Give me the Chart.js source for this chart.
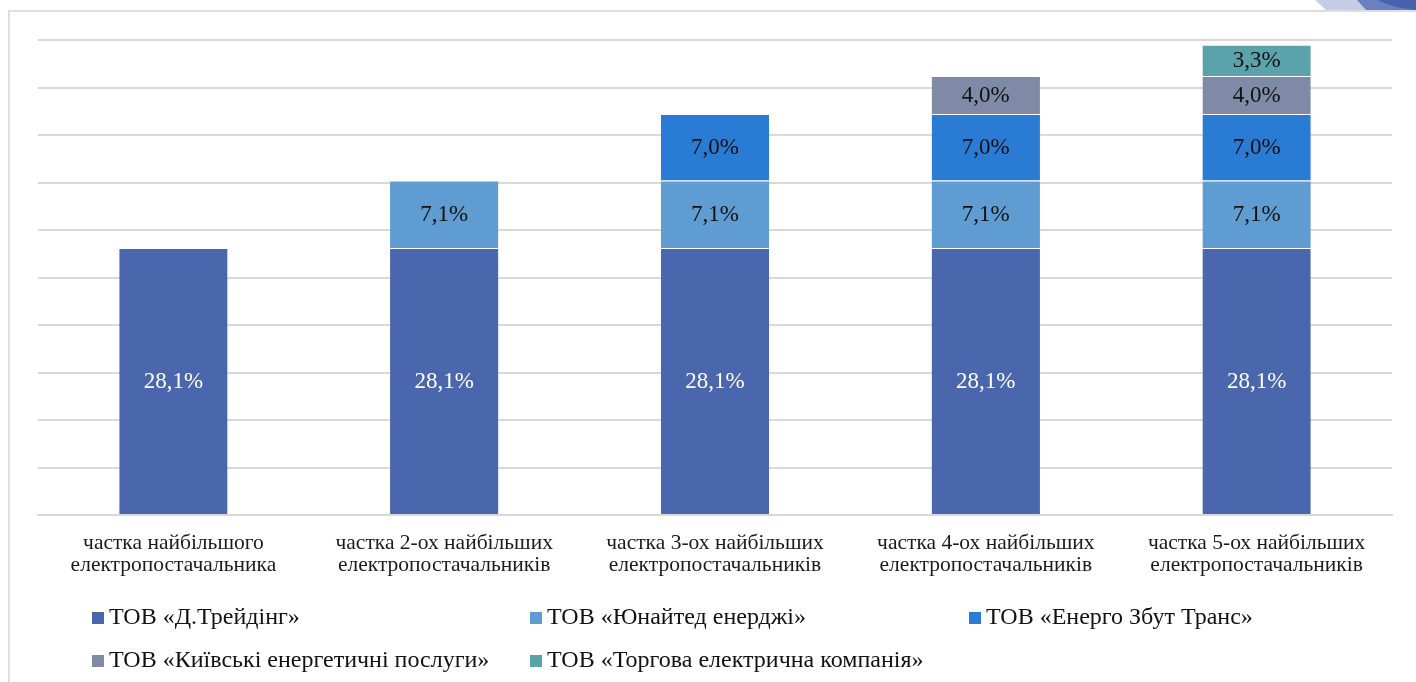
<!DOCTYPE html>
<html>
<head>
<meta charset="utf-8">
<script src="https://cdn.jsdelivr.net/npm/chart.js@4/dist/chart.umd.min.js"></script>
<style>
  html, body { margin: 0; padding: 0; background: #fff; }
  #wrap { position: relative; width: 1416px; height: 682px; }
  #frame { position: absolute; left: 8px; top: 10px; width: 1500px; height: 800px;
           border-left: 2px solid #dedede; border-top: 2px solid #dedede; }
  canvas { position: absolute; left: 0; top: 0; }
</style>
</head>
<body>
<div id="wrap">
  <div id="frame"></div>
  <canvas id="c" width="1416" height="682"></canvas>
</div>
<script>
const categories = [
  ["частка найбільшого", "електропостачальника"],
  ["частка 2-ох найбільших", "електропостачальників"],
  ["частка 3-ох найбільших", "електропостачальників"],
  ["частка 4-ох найбільших", "електропостачальників"],
  ["частка 5-ох найбільших", "електропостачальників"]
];
const seriesNames = [
  "ТОВ «Д.Трейдінг»",
  "ТОВ «Юнайтед енерджі»",
  "ТОВ «Енерго Збут Транс»",
  "ТОВ «Київські енергетичні послуги»",
  "ТОВ «Торгова електрична компанія»"
];
const dTrading   = [28.1, 28.1, 28.1, 28.1, 28.1];
const united     = [null, 7.1, 7.1, 7.1, 7.1];
const energoZbut = [null, null, 7.0, 7.0, 7.0];
const kyivServ   = [null, null, null, 4.0, 4.0];
const torgova    = [null, null, null, null, 3.3];
const seriesColors = ["#4a66ac", "#5e9cd2", "#2a7bd4", "#7f8ba6", "#5aa3ab"];
const labelColors  = ["#ffffff", "#111111", "#111111", "#111111", "#111111"];

const allSeries = [dTrading, united, energoZbut, kyivServ, torgova];
const datasets = allSeries.map((d, i) => ({
  label: seriesNames[i],
  data: d,
  backgroundColor: seriesColors[i],
  borderColor: 'rgba(255,255,255,0.35)',
  borderWidth: {top: 1, bottom: 0, left: 0, right: 0},
  borderSkipped: false,
  categoryPercentage: 1.0,
  barPercentage: 0.4
}));

const FONT = "'Liberation Serif', 'Times New Roman', serif";

const valueLabels = {
  id: 'valueLabels',
  afterDatasetsDraw(chart) {
    const ctx = chart.ctx;
    ctx.save();
    ctx.font = "23px " + FONT;
    ctx.textAlign = 'center';
    ctx.textBaseline = 'middle';
    chart.data.datasets.forEach((ds, i) => {
      const meta = chart.getDatasetMeta(i);
      meta.data.forEach((bar, j) => {
        const v = ds.data[j];
        if (v === null || v === undefined) return;
        const y = (bar.y + bar.base) / 2;
        ctx.fillStyle = labelColors[i];
        ctx.fillText(v.toFixed(1).replace('.', ',') + '%', bar.x, y + 1);
      });
    });
    ctx.restore();
  }
};

const gridLegend = {
  id: 'gridLegend',
  afterDraw(chart) {
    const ctx = chart.ctx;
    ctx.save();
    ctx.font = "24px " + FONT;
    ctx.textBaseline = 'alphabetic';
    ctx.textAlign = 'left';
    const cols = [92, 530, 969];
    const rows = [624, 667];
    chart.data.datasets.forEach((ds, i) => {
      const x = cols[i % 3];
      const y = rows[Math.floor(i / 3)];
      ctx.fillStyle = ds.backgroundColor;
      ctx.fillRect(x, y - 12, 12, 12);
      ctx.fillStyle = '#111111';
      ctx.fillText(ds.label, x + 17, y);
    });
    ctx.restore();
  }
};

const decoration = {
  id: 'decoration',
  beforeDraw(chart) {
    const ctx = chart.ctx;
    ctx.save();
    ctx.fillStyle = '#c4cce6';
    ctx.beginPath();
    ctx.moveTo(1315, 0); ctx.lineTo(1416, 0); ctx.lineTo(1416, 10);
    ctx.lineTo(1326, 10); ctx.closePath(); ctx.fill();
    ctx.fillStyle = '#6a80c2';
    ctx.beginPath();
    ctx.moveTo(1357, 0); ctx.lineTo(1416, 0); ctx.lineTo(1416, 10);
    ctx.lineTo(1366, 10); ctx.closePath(); ctx.fill();
    ctx.fillStyle = '#4a62ae';
    ctx.beginPath();
    ctx.moveTo(1378, 0); ctx.lineTo(1416, 0); ctx.lineTo(1416, 10);
    ctx.quadraticCurveTo(1392, 8, 1378, 0); ctx.closePath(); ctx.fill();
    ctx.restore();
  }
};

new Chart(document.getElementById('c'), {
  type: 'bar',
  data: { labels: categories, datasets },
  options: {
    responsive: false,
    animation: false,
    layout: { padding: { left: 38, right: 24, top: 40, bottom: 0 } },
    plugins: {
      legend: { display: false },
      tooltip: { enabled: false },
      title: { display: false }
    },
    scales: {
      x: {
        stacked: true,
        grid: { display: false, drawTicks: false },
        border: { display: true, color: '#d9d9d9', width: 2 },
        ticks: {
          color: '#1a1a1a',
          font: { family: FONT, size: 21.5, lineHeight: 1.03 },
          padding: 17,
          maxRotation: 0,
          autoSkip: false
        },
        afterFit(axis) { axis.height = 167; }
      },
      y: {
        stacked: true,
        min: 0,
        max: 50,
        ticks: { display: false, stepSize: 5 },
        grid: { color: '#d9d9d9', lineWidth: 2, drawTicks: false },
        border: { display: false }
      }
    }
  },
  plugins: [decoration, valueLabels, gridLegend]
});
</script>
</body>
</html>
